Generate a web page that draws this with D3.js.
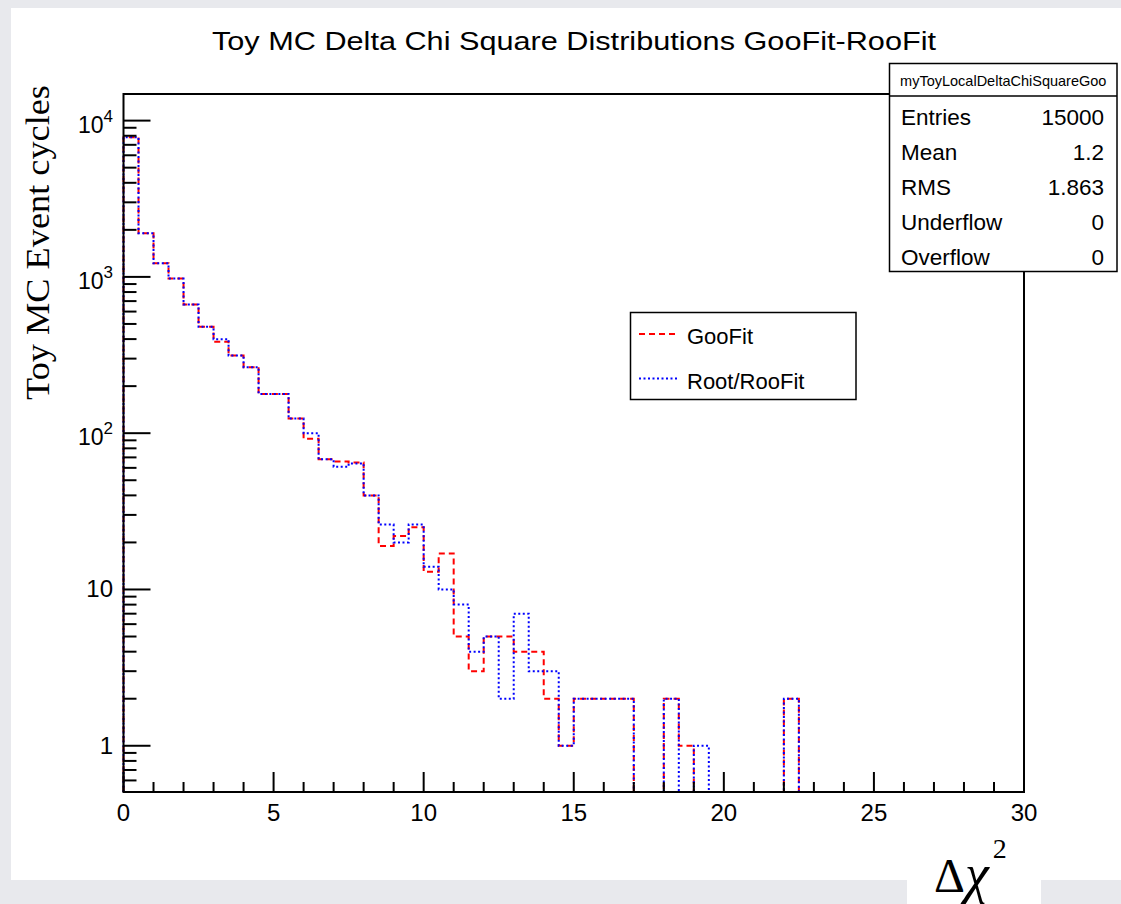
<!DOCTYPE html>
<html>
<head>
<meta charset="utf-8">
<script src="https://cdn.jsdelivr.net/npm/d3@7"></script>
<style>
  html, body { margin: 0; padding: 0; background: #e8e9ed; }
  svg { display: block; }
</style>
</head>
<body>
<svg id="chart" width="1121" height="904"></svg>
<script>
// ---------------- data ----------------
const titleText = "Toy MC Delta Chi Square Distributions GooFit-RooFit";
const yAxisTitle = "Toy MC Event cycles";
const histName = "myToyLocalDeltaChiSquareGoo";
const binWidth = 0.5;
const xMin = 0, xMax = 30;
// counts per 0.5-wide bin, from 0 to 30 (60 bins)
const gooFitCounts = [
  7830, 1905, 1224, 975, 665, 479, 385, 314, 264, 178,
  178, 124, 92, 68, 66, 65, 40, 19, 22, 25,
  13, 17, 5, 3, 5, 5, 4, 4, 2, 1,
  2, 2, 2, 2, 0, 0, 2, 1, 0, 0,
  0, 0, 0, 0, 2, 0, 0, 0, 0, 0,
  0, 0, 0, 0, 0, 0, 0, 0, 0, 0
];
const rooFitCounts = [
  7830, 1905, 1224, 975, 665, 479, 399, 314, 264, 178,
  178, 124, 100, 68, 61, 64, 40, 26, 20, 26,
  14, 10, 8, 4, 5, 2, 7, 3, 3, 1,
  2, 2, 2, 2, 0, 0, 2, 0, 1, 0,
  0, 0, 0, 0, 2, 0, 0, 0, 0, 0,
  0, 0, 0, 0, 0, 0, 0, 0, 0, 0
];
const seriesNames = ["GooFit", "Root/RooFit"];
const xTickValues = [0, 5, 10, 15, 20, 25, 30];
const yMajorTicks = [1, 10, 100, 1000, 10000];
const yTickBase = ["1", "10", "10", "10", "10"];
const yTickExp = ["", "", "2", "3", "4"];
const statsLabels = ["Entries", "Mean", "RMS", "Underflow", "Overflow"];
const statsValues = ["15000", "1.2", "1.863", "0", "0"];
const yDomain = [0.506, 14800];

// ---------------- layout ----------------
const svg = d3.select("#chart");
const frame = { left: 123.5, right: 1024, top: 94, bottom: 792 };

// white canvas
svg.append("rect").attr("x", 11).attr("y", 8).attr("width", 1121 - 11).attr("height", 880 - 8).attr("fill", "#fff");
svg.append("rect").attr("x", 907).attr("y", 870).attr("width", 134).attr("height", 40).attr("fill", "#fff");

const x = d3.scaleLinear().domain([xMin, xMax]).range([frame.left, frame.right]);
const y = d3.scaleLog().domain(yDomain).range([frame.bottom, frame.top]);

// title
svg.append("text")
  .attr("x", 574).attr("y", 50)
  .attr("text-anchor", "middle")
  .attr("font-family", "Liberation Sans, Arial, sans-serif")
  .attr("font-size", 26)
  .attr("textLength", 724).attr("lengthAdjust", "spacingAndGlyphs")
  .text(titleText);

// histograms
function stepPoints(counts) {
  const pts = [[xMin, yDomain[0]]];
  counts.forEach((c, i) => {
    const v = Math.max(c, yDomain[0]);
    pts.push([xMin + i * binWidth, v]);
    pts.push([xMin + (i + 1) * binWidth, v]);
  });
  pts.push([xMax, yDomain[0]]);
  return pts;
}
const line = d3.line().x(d => x(d[0])).y(d => y(d[1]));

const g = svg.append("g");
g.append("path")
  .attr("d", line(stepPoints(gooFitCounts)))
  .attr("fill", "none").attr("stroke", "#ff0000").attr("stroke-width", 2)
  .attr("stroke-dasharray", "6,4");
g.append("path")
  .attr("d", line(stepPoints(rooFitCounts)))
  .attr("fill", "none").attr("stroke", "#0000ff").attr("stroke-width", 2)
  .attr("stroke-dasharray", "2,2.5");

// frame
svg.append("rect")
  .attr("x", frame.left).attr("y", frame.top)
  .attr("width", frame.right - frame.left).attr("height", frame.bottom - frame.top)
  .attr("fill", "none").attr("stroke", "#000").attr("stroke-width", 2);

// x ticks
const xMinor = d3.range(xMin, xMax + 1, 1);
svg.append("g").selectAll("line").data(xMinor).join("line")
  .attr("x1", d => x(d)).attr("x2", d => x(d))
  .attr("y1", frame.bottom).attr("y2", d => frame.bottom - (d % 5 === 0 ? 20 : 10))
  .attr("stroke", "#000").attr("stroke-width", 2);
svg.append("g").selectAll("text").data(xTickValues).join("text")
  .attr("x", d => x(d)).attr("y", 821)
  .attr("text-anchor", "middle")
  .attr("font-family", "Liberation Sans, Arial, sans-serif")
  .attr("font-size", 24)
  .text(d => d);

// y ticks
const yMinor = [];
[-1, 0, 1, 2, 3, 4].forEach(e => {
  for (let k = 2; k <= 9; k++) {
    const v = k * Math.pow(10, e);
    if (v > yDomain[0] && v < yDomain[1]) yMinor.push(v);
  }
});
svg.append("g").selectAll("line").data(yMinor).join("line")
  .attr("x1", frame.left).attr("x2", frame.left + 13)
  .attr("y1", d => y(d)).attr("y2", d => y(d))
  .attr("stroke", "#000").attr("stroke-width", 2);
svg.append("g").selectAll("line").data(yMajorTicks).join("line")
  .attr("x1", frame.left).attr("x2", frame.left + 27)
  .attr("y1", d => y(d)).attr("y2", d => y(d))
  .attr("stroke", "#000").attr("stroke-width", 2);

const yLab = svg.append("g").selectAll("text").data(yMajorTicks).join("text")
  .attr("x", 113)
  .attr("y", d => y(d) + 8)
  .attr("text-anchor", "end")
  .attr("font-family", "Liberation Sans, Arial, sans-serif")
  .attr("font-size", 24);
yLab.each(function(d, i) {
  const t = d3.select(this);
  if (yTickExp[i] === "") {
    t.text(yTickBase[i]);
  } else {
    t.attr("y", y(d) + 12);
    t.append("tspan").attr("font-size", 23).text(yTickBase[i]);
    t.append("tspan").attr("font-size", 17).attr("dy", -11).text(yTickExp[i]);
  }
});

// y axis title
svg.append("text")
  .attr("transform", "translate(49,242.5) rotate(-90)")
  .attr("text-anchor", "middle")
  .attr("font-family", "Liberation Serif, Times New Roman, serif")
  .attr("font-size", 34)
  .attr("textLength", 315).attr("lengthAdjust", "spacingAndGlyphs")
  .text(yAxisTitle);

// x axis title  Δχ²
const xt = svg.append("text")
  .attr("x", 934).attr("y", 892)
  .attr("font-family", "Liberation Serif, Times New Roman, serif")
  .attr("font-size", 48);
xt.append("tspan").text("Δ");
xt.append("tspan").attr("font-style", "italic").attr("font-size", 54).text("χ");
xt.append("tspan").attr("font-size", 28).attr("dy", -34).attr("dx", 4).text("2");

// legend
const leg = svg.append("g");
leg.append("rect").attr("x", 630.5).attr("y", 312.5).attr("width", 225.5).attr("height", 87)
  .attr("fill", "#fff").attr("stroke", "#000").attr("stroke-width", 1.5);
const legColors = ["#ff0000", "#0000ff"];
const legDash = ["6,4", "2,2.5"];
const legY = [334, 378.5];
seriesNames.forEach((n, i) => {
  leg.append("line").attr("x1", 639).attr("x2", 679).attr("y1", legY[i]).attr("y2", legY[i])
    .attr("stroke", legColors[i]).attr("stroke-width", 2).attr("stroke-dasharray", legDash[i]);
  leg.append("text").attr("x", 687).attr("y", legY[i] + 10)
    .attr("font-family", "Liberation Sans, Arial, sans-serif").attr("font-size", 22)
    .text(n);
});

// stats box
const st = svg.append("g");
const sb = { x: 889.5, y: 63.5, w: 227.5, h: 208, head: 32.5, row: 35.1 };
st.append("rect").attr("x", sb.x).attr("y", sb.y).attr("width", sb.w).attr("height", sb.h)
  .attr("fill", "#fff").attr("stroke", "#000").attr("stroke-width", 1.5);
st.append("line").attr("x1", sb.x).attr("x2", sb.x + sb.w).attr("y1", sb.y + sb.head).attr("y2", sb.y + sb.head)
  .attr("stroke", "#000").attr("stroke-width", 1.5);
st.append("text").attr("x", sb.x + sb.w / 2).attr("y", sb.y + 22).attr("text-anchor", "middle")
  .attr("font-family", "Liberation Sans, Arial, sans-serif").attr("font-size", 14.5)
  .text(histName);
statsLabels.forEach((l, i) => {
  const cy = sb.y + sb.head + sb.row * (i + 0.5);
  st.append("text").attr("x", 901).attr("y", cy + 11)
    .attr("font-family", "Liberation Sans, Arial, sans-serif").attr("font-size", 22.5).text(l);
  st.append("text").attr("x", 1104).attr("y", cy + 11).attr("text-anchor", "end")
    .attr("font-family", "Liberation Sans, Arial, sans-serif").attr("font-size", 22.5).text(statsValues[i]);
});
</script>
</body>
</html>
